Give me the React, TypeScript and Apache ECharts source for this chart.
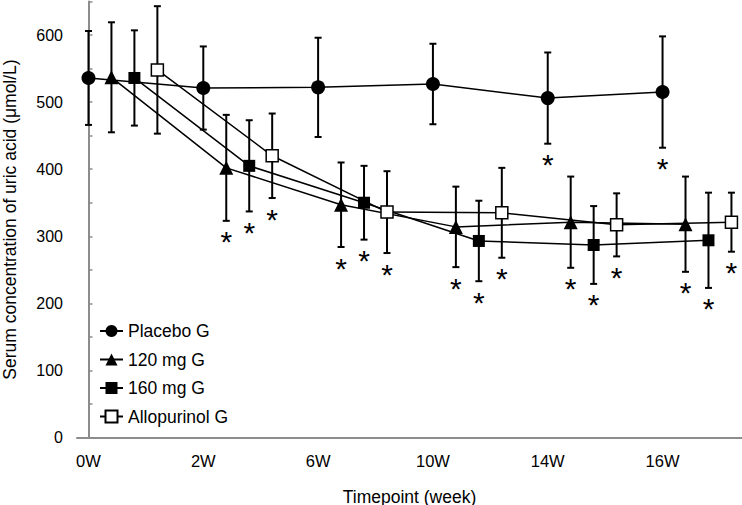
import React, { useEffect, useRef } from "react";
import * as echarts from "echarts";

const weeks = ["0W", "2W", "6W", "10W", "14W", "16W"];
const groupNames = ["Placebo G", "120 mg G", "160 mg G", "Allopurinol G"];

const placeboMean = [536, 521, 522, 527, 506, 515];
const placeboSD = [70, 62, 74, 60, 68, 83];
const placeboSig = [0, 0, 0, 0, 1, 1];

const mg120Mean = [537, 402, 347, 314, 321, 318];
const mg120SD = [82, 79, 63, 60, 68, 71];
const mg120Sig = [0, 1, 1, 1, 1, 1];

const mg160Mean = [536, 405, 350, 293, 287, 294];
const mg160SD = [71, 68, 55, 60, 58, 71];
const mg160Sig = [0, 1, 1, 1, 1, 1];

const alloMean = [548, 420, 336, 335, 317, 321];
const alloSD = [95, 63, 61, 67, 47, 44];
const alloSig = [0, 1, 1, 1, 1, 1];

const yTickStep = 50;
const yLabelStep = 100;

const FONT = "'Liberation Sans', Arial, sans-serif";

export default function App() {
  const ref = useRef<HTMLDivElement>(null);
  useEffect(() => {
    if (!ref.current) return;
    const chart = echarts.init(ref.current, null, { renderer: "svg" });
    const groups = [
      { name: groupNames[0], mean: placeboMean, sd: placeboSD, sig: placeboSig, symbol: "circle", size: 14, fill: "#000" },
      { name: groupNames[1], mean: mg120Mean, sd: mg120SD, sig: mg120Sig, symbol: "triangle", size: 14, fill: "#000" },
      { name: groupNames[2], mean: mg160Mean, sd: mg160SD, sig: mg160Sig, symbol: "rect", size: 12, fill: "#000" },
      { name: groupNames[3], mean: alloMean, sd: alloSD, sig: alloSig, symbol: "rect", size: 12, fill: "#fff" },
    ];
    const series: any[] = [];
    groups.forEach((g, j) => {
      const pts = g.mean.map((m, i) => [i * 5 + j, m, g.sd[i], g.sig[i]]);
      series.push({
        type: "custom",
        name: g.name + "_err",
        z: 1,
        data: pts,
        encode: { x: 0, y: 1 },
        clip: false,
        renderItem: (params: any, api: any) => {
          const x = api.value(0);
          const m = api.value(1);
          const sd = api.value(2);
          const sig = api.value(3);
          const top = api.coord([x, m + sd]);
          const bot = api.coord([x, m - sd]);
          const cap = 3.5;
          const st = { stroke: "#000", lineWidth: 2 };
          const children: any[] = [
            { type: "line", shape: { x1: top[0], y1: top[1], x2: bot[0], y2: bot[1] }, style: st },
            { type: "line", shape: { x1: top[0] - cap, y1: top[1], x2: top[0] + cap, y2: top[1] }, style: st },
            { type: "line", shape: { x1: bot[0] - cap, y1: bot[1], x2: bot[0] + cap, y2: bot[1] }, style: st },
          ];
          if (sig) {
            children.push({
              type: "text",
              x: bot[0],
              y: bot[1] + 21,
              style: { text: "*", fontSize: 30, fill: "#000", align: "center", verticalAlign: "middle", fontFamily: FONT },
            });
          }
          return { type: "group", children };
        },
      });
      series.push({
        type: "line",
        name: g.name,
        z: 3,
        data: pts.map((p) => [p[0], p[1]]),
        symbol: g.symbol,
        symbolSize: g.size,
        showAllSymbol: true,
        lineStyle: { color: "#000", width: 1.5 },
        itemStyle: { color: g.fill, borderColor: "#000", borderWidth: g.fill === "#fff" ? 1.5 : 0 },
        emphasis: { disabled: true },
      });
    });

    chart.setOption({
      animation: false,
      grid: { left: 77, right: 0, top: 1.5, bottom: 67.5, containLabel: false, outerBoundsMode: "none" },
      legend: {
        data: groupNames,
        orient: "vertical",
        left: 94,
        top: 317,
        itemWidth: 23,
        itemHeight: 15,
        itemGap: 10.5,
        textStyle: { fontSize: 17.5, color: "#000", fontFamily: FONT },
      },
      xAxis: {
        type: "value",
        min: -0.5,
        max: 28.46,
        axisLine: { lineStyle: { color: "#8c8c8c", width: 2 } },
        axisTick: { show: false },
        splitLine: { show: false },
        axisLabel: {
          customValues: weeks.map((_, i) => i * 5),
          formatter: (v: number) => weeks[Math.round(v / 5)] ?? "",
          fontSize: 16.5,
          color: "#000",
          fontFamily: FONT,
          margin: 15,
        },
        name: "Timepoint (week)",
        nameLocation: "middle",
        nameGap: 50,
        nameTextStyle: { fontSize: 17.5, color: "#000", fontFamily: FONT },
      },
      yAxis: {
        type: "value",
        min: 0,
        max: 650,
        interval: yTickStep,
        axisLine: { show: true, lineStyle: { color: "#8c8c8c", width: 2 } },
        axisTick: { show: true, inside: true, length: 4, lineStyle: { color: "#8c8c8c", width: 1.5 } },
        splitLine: { show: false },
        axisLabel: {
          formatter: (v: number) => (v % yLabelStep === 0 && v <= 600 ? String(v) : ""),
          fontSize: 16,
          color: "#000",
          fontFamily: FONT,
          margin: 14,
        },
        name: "Serum concentration of uric acid (\u03bcmol/L)",
        nameLocation: "middle",
        nameGap: 58,
        nameTextStyle: { fontSize: 17.5, color: "#000", fontFamily: FONT },
      },
      series,
    });
    return () => chart.dispose();
  }, []);
  return <div ref={ref} style={{ position: "fixed", left: 0, top: 0, width: 742, height: 505, background: "#fff" }} />;
}
